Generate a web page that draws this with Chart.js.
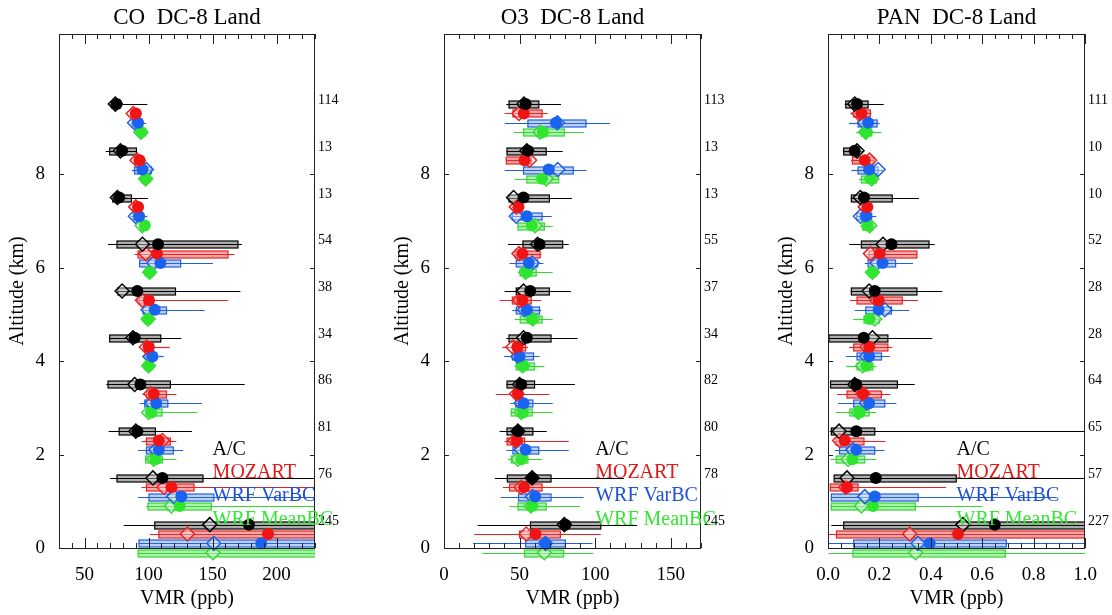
<!DOCTYPE html>
<html>
<head>
<meta charset="utf-8">
<script src="https://cdn.jsdelivr.net/npm/chart.js@4.4.1/dist/chart.umd.min.js"></script>
<style>
  body { margin: 0; background: #fff; }
  #wrap { position: relative; width: 1112px; height: 615px; }
  canvas { position: absolute; top: 0; }
</style>
</head>
<body>
<div id="wrap">
  <canvas id="chartCO" width="370" height="615" style="left:0"></canvas>
  <canvas id="chartO3" width="370" height="615" style="left:370px"></canvas>
  <canvas id="chartPAN" width="372" height="615" style="left:740px"></canvas>
</div>
<script>
// Altitude bins (km), top to bottom. Each row: [low, p25, median, mean, p75, high]
const altBins = [9.5, 8.5, 7.5, 6.5, 5.5, 4.5, 3.5, 2.5, 1.5, 0.5];
const seriesNames = ['A/C', 'MOZART', 'WRF VarBC', 'WRF MeanBC'];

// CO (ppb) - values past 230 run off the right edge
const coAC = [
  [70, 71, 74, 75, 77, 99], [66.5, 69.6, 78, 79.3, 90.5, 91], [71, 72, 75.6, 77, 86.6, 99.6],
  [68.3, 75.3, 95.2, 107.4, 169.8, 173], [74.8, 76, 79.3, 91.2, 121, 171.7], [69, 69.6, 87.8, 89.1, 109.5, 125.6],
  [67, 68.3, 89.1, 93.6, 117, 175], [68.8, 77, 90, 91.2, 105.3, 133.9], [70, 75.3, 103.4, 110.8, 142.5, 250],
  [80.5, 104.8, 147.8, 178.4, 240, 260]
];
const coMOZ = [
  [86, 87, 88, 90, 92, 95], [88, 89, 91, 93, 96, 98], [87, 88, 90, 91.8, 94, 96],
  [89, 91.7, 97.7, 106.6, 162, 167], [89.2, 92.5, 95.2, 100.3, 103.5, 162], [95.6, 97, 98.3, 100, 104, 116.5],
  [95.2, 98.3, 101.7, 104, 114, 121.7], [94.4, 98.3, 110.8, 108, 117, 121.7], [94.4, 98.3, 112, 117.8, 135.5, 250],
  [100.9, 108, 130.3, 193.3, 240, 260]
];
const coVar = [
  [86, 87, 89, 91.8, 95, 98], [87, 89, 98.3, 95.2, 102, 103], [86, 88, 89.7, 92.6, 95, 99],
  [92.5, 93, 104, 109.2, 125, 150.3], [95.6, 95.6, 99.6, 104.8, 114, 143.8], [95.6, 98, 101, 103, 106, 111.8],
  [93, 97, 102.5, 106, 115, 141.7], [91.8, 98.3, 105.6, 108, 119.3, 126.9], [91.8, 100.3, 119.6, 125.6, 151, 250],
  [91.8, 92.5, 150.9, 188, 240, 260]
];
const coMean = [
  [91, 92, 94, 94.4, 97, 98], [94, 95, 97.7, 97.7, 100, 101], [93, 94, 95, 97, 99, 100],
  [98, 99, 100.8, 100.8, 102, 103], [97, 98, 99.6, 99.6, 101, 102], [97, 98, 100, 100, 102, 103],
  [97, 97.7, 100, 102.2, 110.5, 137.8], [97, 97.7, 104, 105.5, 110.8, 121.7], [98, 99.5, 117.8, 124.3, 149, 250],
  [91.8, 91.8, 150.3, null, 240, 260]
];
const coCounts = [114, 13, 13, 54, 38, 34, 86, 81, 76, 245];

// O3 (ppb)
const o3AC = [
  [41.2, 43, 52.9, 54, 62.7, 77.4], [41.2, 41.7, 54.8, 55.5, 67.6, 78.5], [43, 43, 46, 52.6, 69.7, 84.7],
  [42.3, 52.2, 61.9, 63.2, 78.5, 82.5], [40.1, 47.8, 52.6, 57, 69.7, 84], [41.2, 43, 52.6, 54.8, 70.8, 88.4],
  [41.2, 41.7, 50, 51.1, 59.9, 86.6], [36.8, 41.7, 48.9, 48.9, 58.8, 68], [33.6, 41.9, 58.3, 58.3, 70.8, 119],
  [22.2, 57.2, 79.6, 80.3, 103.7, 127.8]
];
const o3MOZ = [
  [40.1, 45.6, 49.6, 52.8, 64.9, 68.6], [41, 41.2, 56.6, 53.3, 57.7, 58.5], [45, 46, 47.8, 49.3, 51, 52],
  [46.5, 47.1, 49.6, 51.8, 63.6, 64.5], [36.8, 45.2, 50, 51.8, 57.7, 64.3], [38.6, 45.6, 45.6, 48.5, 54, 55.5],
  [34.2, 47, 48, 48.9, 51, 69.7], [40.1, 41.7, 47, 48.2, 53.3, 82.5], [39, 43.4, 51, 52.9, 64.9, 101.5],
  [20, 50, 54.4, 60.5, 77, 103.7]
];
const o3Var = [
  [40.1, 55.5, 75, 74.1, 93.9, 109.9], [40.1, 52.6, 75.2, 69.3, 85.5, 94.3], [44.5, 45.2, 47.8, 54.8, 64.9, 71.3],
  [43.4, 47.8, 58.3, 56.1, 62, 65.8], [45.2, 47.8, 53.3, 54.8, 63.2, 64.3], [39.7, 45.2, 48.9, 50, 59.2, 63.2],
  [43.9, 47.4, 51.1, 52.6, 58.8, 71.9], [41.2, 45.6, 51.1, 54, 62.7, 82.5], [37.5, 49.3, 58.5, 60.3, 70.8, 92.3],
  [19.3, 54, 67.1, 67.1, 80.3, 98.2]
];
const o3Mean = [
  [46.3, 52.6, 63.6, 65.4, 79.6, 92.8], [46.7, 54.8, 67.6, 64.9, 75.9, 76], [48.9, 48.9, 60.3, 58.1, 66.4, 71.9],
  [50, 50.4, 54, 54.8, 61, 71.9], [46.7, 50.4, 58.8, 58.1, 64.9, 71.9], [46.7, 47.8, 52, 52.6, 59.9, 66.4],
  [43.9, 44.5, 51.1, 52.2, 58.3, 71.9], [42.3, 44.5, 48.9, 51.1, 55.5, 64.7], [43.4, 48.9, 57.5, 58.3, 67.6, 89.9],
  [25.4, 53.3, 66.4, null, 79.2, 98.9]
];
const o3Counts = [113, 13, 13, 55, 37, 34, 82, 80, 78, 245];

// PAN (ppb) - values past 1.0 run off the right edge
const panAC = [
  [0.065, 0.069, 0.104, 0.113, 0.156, 0.217], [0.058, 0.061, 0.113, 0.104, 0.12, 0.136], [0.088, 0.091, 0.126, 0.14, 0.25, 0.354],
  [0.082, 0.13, 0.214, 0.247, 0.393, 0.415], [0.088, 0.091, 0.16, 0.182, 0.346, 0.445], [0.004, 0.004, 0.173, 0.139, 0.233, 0.406],
  [0.01, 0.01, 0.104, 0.11, 0.27, 0.337], [0.007, 0.013, 0.043, 0.11, 0.182, 1.1], [0.024, 0.024, 0.074, 0.186, 0.499, 1.1],
  [0.013, 0.061, 0.525, 0.649, 1.05, 1.1]
];
const panMOZ = [
  [0.087, 0.1, 0.12, 0.13, 0.165, 0.169], [0.09, 0.095, 0.162, 0.143, 0.178, 0.18], [0.13, 0.135, 0.145, 0.153, 0.16, 0.165],
  [0.149, 0.16, 0.165, 0.201, 0.346, 0.346], [0.085, 0.113, 0.19, 0.197, 0.289, 0.35], [0.082, 0.1, 0.152, 0.16, 0.233, 0.25],
  [0.035, 0.074, 0.136, 0.136, 0.208, 0.243], [0.026, 0.031, 0.045, 0.065, 0.14, 0.223], [0.009, 0.009, 0.069, 0.074, 0.117, 0.46],
  [0.004, 0.033, 0.318, 0.506, 1.05, 1.1]
];
const panVar = [
  [0.082, 0.117, 0.143, 0.156, 0.191, 0.201], [0.091, 0.117, 0.195, 0.16, 0.195, 0.214], [0.11, 0.112, 0.126, 0.147, 0.17, 0.188],
  [0.143, 0.156, 0.191, 0.212, 0.263, 0.331], [0.104, 0.147, 0.221, 0.197, 0.247, 0.315], [0.069, 0.113, 0.15, 0.16, 0.208, 0.24],
  [0.039, 0.1, 0.15, 0.16, 0.221, 0.266], [0.026, 0.045, 0.097, 0.11, 0.182, 0.22], [0.013, 0.013, 0.143, 0.182, 0.351, 0.89],
  [0.002, 0.1, 0.35, 0.396, 0.694, 1.1]
];
const panMean = [
  [0.11, 0.13, 0.147, 0.147, 0.17, 0.208], [0.12, 0.13, 0.17, 0.165, 0.188, 0.2], [0.125, 0.135, 0.162, 0.153, 0.175, 0.19],
  [0.16, 0.165, 0.173, 0.173, 0.18, 0.185], [0.097, 0.14, 0.182, 0.162, 0.2, 0.208], [0.07, 0.113, 0.135, 0.149, 0.175, 0.188],
  [0.03, 0.085, 0.118, 0.123, 0.16, 0.188], [0.009, 0.032, 0.078, 0.095, 0.143, 0.188], [0.009, 0.013, 0.13, 0.175, 0.34, 0.6],
  [0.002, 0.097, 0.341, null, 0.69, 1.1]
];
const panCounts = [111, 10, 10, 52, 28, 28, 64, 65, 57, 227];

// styling
const serif = "'Liberation Serif', 'Times New Roman', serif";
const lineColors = ['#000000', '#e82222', '#1f5fe0', '#36d636'];
const markColors = ['#000000', '#f01414', '#1a62f0', '#2ee62e'];
const boxFills = ['rgba(0,0,0,0.32)', 'rgba(230,50,50,0.42)', 'rgba(50,110,230,0.32)', 'rgba(50,220,50,0.4)'];
const textColors = ['#000000', '#e01818', '#1e50d8', '#33e633'];
const seriesStep = 0.2;   // vertical offset between series inside a bin

function isMultiple(v, step) {
  return Math.abs(v / step - Math.round(v / step)) < 1e-6;
}

function profilePlugin(p) {
  return {
    id: 'profile',
    beforeDatasetsDraw(chart) {
      const { ctx, chartArea: a } = chart;
      const x = chart.scales.x, y = chart.scales.y;
      ctx.save();
      ctx.beginPath();
      ctx.rect(a.left, 0, a.right - a.left, chart.height);
      ctx.clip();
      p.series.forEach((rows, s) => {
        rows.forEach((r, i) => {
          const py = Math.round(y.getPixelForValue(altBins[i] - seriesStep * s)) + 0.5;
          // whisker
          ctx.strokeStyle = lineColors[s];
          ctx.lineWidth = 1.2;
          ctx.beginPath();
          ctx.moveTo(x.getPixelForValue(r[0]), py);
          ctx.lineTo(x.getPixelForValue(r[5]), py);
          ctx.stroke();
          // interquartile box
          const x1 = x.getPixelForValue(r[1]);
          const x2 = x.getPixelForValue(r[4]);
          ctx.fillStyle = boxFills[s];
          ctx.fillRect(x1, py - 3.5, x2 - x1, 7);
          ctx.strokeRect(x1, py - 3.5, x2 - x1, 7);
        });
      });
      ctx.restore();
    },
    afterDraw(chart) {
      const { ctx, chartArea: a } = chart;
      const x = chart.scales.x, y = chart.scales.y;
      ctx.save();
      // frame
      ctx.strokeStyle = '#222';
      ctx.lineWidth = 1;
      ctx.strokeRect(a.left + 0.5, a.top + 0.5, a.right - a.left - 1, a.bottom - a.top);
      // inward ticks, top and bottom
      ctx.beginPath();
      x.ticks.forEach(t => {
        const px = Math.round(x.getPixelForValue(t.value)) + 0.5;
        const len = isMultiple(t.value, p.majorStep) ? 10 : 5;
        ctx.moveTo(px, a.bottom); ctx.lineTo(px, a.bottom - len);
        ctx.moveTo(px, a.top); ctx.lineTo(px, a.top + len);
      });
      [0, 2, 4, 6, 8].forEach(v => {
        const py = Math.round(y.getPixelForValue(v)) + 0.5;
        ctx.moveTo(a.left, py); ctx.lineTo(a.left + 5, py);
        ctx.moveTo(a.right, py); ctx.lineTo(a.right - 5, py);
      });
      ctx.stroke();
      // sample counts beside each bin
      ctx.fillStyle = '#000';
      ctx.font = '14px ' + serif;
      ctx.textAlign = 'left';
      ctx.textBaseline = 'alphabetic';
      p.counts.forEach((n, i) => {
        ctx.fillText(String(n), a.right + 3, y.getPixelForValue(altBins[i]));
      });
      // legend text
      ctx.font = '20px ' + serif;
      seriesNames.forEach((name, s) => {
        ctx.fillStyle = textColors[s];
        ctx.fillText(name, x.getPixelForValue(p.legendX), y.getPixelForValue(2.0 - 0.5 * s));
      });
      // panel title
      ctx.fillStyle = '#000';
      ctx.font = '23px ' + serif;
      ctx.textAlign = 'center';
      ctx.fillText(p.title, (a.left + a.right) / 2, 23.5);
      ctx.restore();
    }
  };
}

function makePanel(p) {
  const datasets = [];
  p.series.forEach((rows, s) => {
    datasets.push({
      label: seriesNames[s] + ' median',
      data: rows.map((r, i) => ({ x: r[2], y: altBins[i] - seriesStep * s })),
      pointStyle: 'rectRot',
      pointRadius: 7,
      borderColor: lineColors[s],
      backgroundColor: 'rgba(255,255,255,0.35)',
      borderWidth: 1.5,
      order: 2,
      clip: false
    });
    datasets.push({
      label: seriesNames[s] + ' mean',
      data: rows.map((r, i) => ({ x: r[3], y: altBins[i] - seriesStep * s })),
      pointStyle: 'circle',
      pointRadius: 6,
      borderColor: markColors[s],
      backgroundColor: markColors[s],
      borderWidth: 0,
      order: 1,
      clip: false
    });
  });

  return new Chart(document.getElementById(p.canvas).getContext('2d'), {
    type: 'scatter',
    data: { datasets },
    options: {
      responsive: false,
      animation: false,
      events: [],
      devicePixelRatio: 1,
      layout: { padding: { left: 0, right: p.rightPad, top: 34, bottom: 0 } },
      plugins: { legend: { display: false }, tooltip: { enabled: false } },
      scales: {
        x: {
          type: 'linear',
          min: p.xMin,
          max: p.xMax,
          grid: { display: false },
          border: { display: false },
          ticks: {
            stepSize: p.minorStep,
            autoSkip: false,
            maxRotation: 0,
            padding: 8,
            color: '#000',
            font: { family: serif, size: 19 },
            callback: v => isMultiple(v, p.majorStep) ? p.fmt(v) : ''
          },
          title: {
            display: true,
            text: 'VMR (ppb)',
            color: '#000',
            font: { family: serif, size: 20 },
            padding: { top: 0, bottom: 4 }
          },
          afterFit: s => { s.height = 67; }
        },
        y: {
          type: 'linear',
          min: 0,
          max: 11,
          grid: { display: false },
          border: { display: false },
          ticks: {
            stepSize: 2,
            padding: 6,
            color: '#000',
            font: { family: serif, size: 19 },
            callback: v => (v <= 8 && v % 2 === 0) ? v : ''
          },
          title: {
            display: true,
            text: 'Altitude (km)',
            color: '#000',
            font: { family: serif, size: 20 },
            padding: { top: p.yTitlePad, bottom: 0 }
          },
          afterFit: s => { s.width = p.yWidth; }
        }
      }
    },
    plugins: [profilePlugin(p)]
  });
}

makePanel({
  canvas: 'chartCO', title: 'CO  DC-8 Land',
  xMin: 30, xMax: 230, minorStep: 10, majorStep: 50, fmt: v => String(v),
  legendX: 150, counts: coCounts, series: [coAC, coMOZ, coVar, coMean],
  yWidth: 59, yTitlePad: 6, rightPad: 55
});
makePanel({
  canvas: 'chartO3', title: 'O3  DC-8 Land',
  xMin: 0, xMax: 170, minorStep: 10, majorStep: 50, fmt: v => String(v),
  legendX: 100, counts: o3Counts, series: [o3AC, o3MOZ, o3Var, o3Mean],
  yWidth: 74, yTitlePad: 21, rightPad: 39
});
makePanel({
  canvas: 'chartPAN', title: 'PAN  DC-8 Land',
  xMin: 0, xMax: 1, minorStep: 0.05, majorStep: 0.2, fmt: v => v.toFixed(1),
  legendX: 0.5, counts: panCounts, series: [panAC, panMOZ, panVar, panMean],
  yWidth: 88, yTitlePad: 35, rightPad: 27
});
</script>
</body>
</html>
